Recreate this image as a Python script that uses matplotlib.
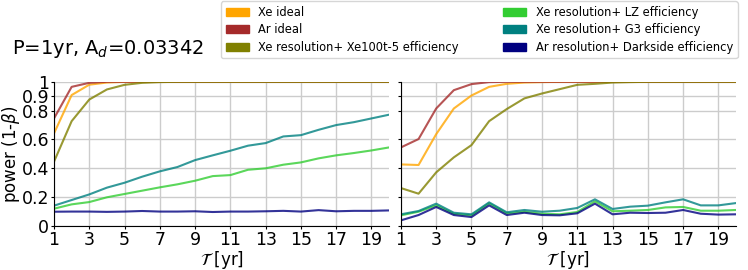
import numpy as np
import matplotlib.pyplot as plt

years = np.arange(1, 21)

labels = ["Xe ideal", "Ar ideal", "Xe resolution+ Xe100t-5 efficiency",
          "Xe resolution+ LZ efficiency", "Xe resolution+ G3 efficiency",
          "Ar resolution+ Darkside efficiency"]
colors = ["orange", "brown", "olive", "limegreen", "teal", "navy"]

# left panel
xe_ideal_l = [0.642, 0.908, 0.98, 0.995] + [1.0] * 16
ar_ideal_l = [0.746, 0.965, 0.993] + [1.0] * 17
xe100_l = [0.446, 0.727, 0.877, 0.947, 0.979, 0.993, 0.998] + [1.0] * 13
lz_l = [0.12, 0.150, 0.166, 0.199, 0.222, 0.245, 0.268, 0.289, 0.314, 0.346,
        0.353, 0.39, 0.40, 0.425, 0.441, 0.469, 0.49, 0.506, 0.524, 0.545]
g3_l = [0.141, 0.18, 0.219, 0.266, 0.30, 0.342, 0.379, 0.409, 0.457, 0.49,
        0.522, 0.557, 0.575, 0.621, 0.630, 0.667, 0.70, 0.72, 0.746, 0.772]
ds_l = [0.099, 0.1, 0.1, 0.098, 0.1, 0.104, 0.1, 0.1, 0.102, 0.097,
        0.1, 0.1, 0.102, 0.105, 0.1, 0.11, 0.102, 0.105, 0.105, 0.108]

# right panel
xe_ideal_r = [0.427, 0.423, 0.637, 0.815, 0.905, 0.965, 0.986, 0.995, 0.998] + [1.0] * 11
ar_ideal_r = [0.545, 0.603, 0.815, 0.942, 0.984, 0.998] + [1.0] * 14
xe100_r = [0.263, 0.224, 0.372, 0.476, 0.561, 0.727, 0.811, 0.885, 0.919, 0.949,
           0.979, 0.986, 0.995, 0.998] + [1.0] * 6
lz_r = [0.074, 0.099, 0.143, 0.085, 0.074, 0.157, 0.088, 0.099, 0.085, 0.081,
        0.097, 0.171, 0.102, 0.106, 0.111, 0.129, 0.132, 0.106, 0.106, 0.111]
g3_r = [0.081, 0.104, 0.155, 0.092, 0.081, 0.164, 0.095, 0.111, 0.099, 0.106,
        0.125, 0.185, 0.118, 0.134, 0.141, 0.164, 0.185, 0.143, 0.143, 0.159]
ds_r = [0.039, 0.076, 0.132, 0.076, 0.062, 0.143, 0.076, 0.092, 0.076, 0.074,
        0.088, 0.155, 0.081, 0.092, 0.09, 0.092, 0.111, 0.085, 0.079, 0.081]

left = [xe_ideal_l, ar_ideal_l, xe100_l, lz_l, g3_l, ds_l]
right = [xe_ideal_r, ar_ideal_r, xe100_r, lz_r, g3_r, ds_r]

fig = plt.figure(figsize=(7.48, 2.70), dpi=100)
ax1 = fig.add_axes([0.0722, 0.163, 0.448, 0.534])
ax2 = fig.add_axes([0.536, 0.163, 0.448, 0.534], sharey=ax1)

for ax, data in [(ax1, left), (ax2, right)]:
    for ys, c, lab in zip(data, colors, labels):
        ax.plot(years, ys, color=c, lw=1.5, alpha=0.8, label=lab)
    ax.set_xlim(1, 20)
    ax.set_ylim(0, 1)
    ax.set_xticks(range(1, 20, 2))
    ax.set_yticks([0, 0.2, 0.4, 0.6, 0.8, 0.9, 1])
    ax.set_yticklabels(["0", "0.2", "0.4", "0.6", "0.8", "0.9", "1"])
    ax.grid(True, color="#cccccc", lw=1)
    ax.set_axisbelow(True)
    ax.spines["top"].set_visible(False)
    ax.spines["right"].set_visible(False)
    ax.tick_params(labelsize=12.5, length=2.5, pad=1)
    ax.set_xlabel(r"$\mathcal{T}$ [yr]", fontsize=12, labelpad=0)

ax2.tick_params(labelleft=False)
ax1.set_ylabel(r"power (1-$\beta$)", fontsize=12, labelpad=0)

fig.text(0.016, 0.82, r"P=1yr, A$_d$=0.03342", fontsize=14, va="center")

handles = [plt.Rectangle((0, 0), 1, 1, color=c) for c in colors]
fig.legend(handles, labels, ncol=2, fontsize=8.3, loc="upper right",
           bbox_to_anchor=(0.986, 0.995), frameon=True, handlelength=2.0,
           columnspacing=3.9, labelspacing=0.38, borderaxespad=0)

plt.savefig("out.png")
